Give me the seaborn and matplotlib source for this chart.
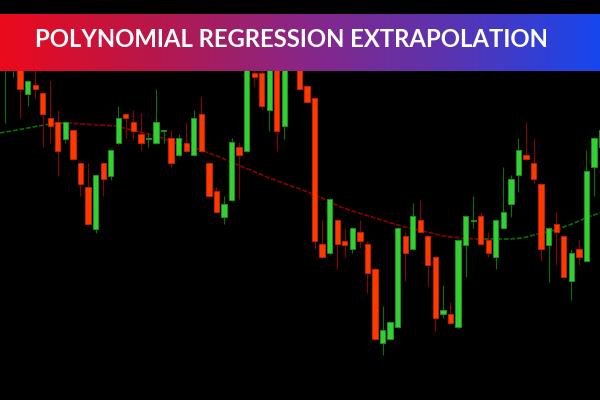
import numpy as np
import pandas as pd
import matplotlib.pyplot as plt
import seaborn as sns
from matplotlib.colors import LinearSegmentedColormap

# candle data (price units), one entry per bar
opens = [1.1340, 1.1332, 1.1340, 1.1306, 1.1315, 1.1307, 1.1282, 1.1278, 1.1261, 1.1270,
         1.1237, 1.1213, 1.1171, 1.1237, 1.1224, 1.1257, 1.1286, 1.1278, 1.1266, 1.1261,
         1.1257, 1.1269, 1.1262, 1.1245, 1.1257, 1.1245, 1.1286, 1.1237, 1.1209, 1.1183,
         1.1200, 1.1253, 1.1249, 1.1327, 1.1327, 1.1290, 1.1335, 1.1274, 1.1332, 1.1335,
         1.1314, 1.1302, 1.1156, 1.1147, 1.1180, 1.1159, 1.1151, 1.1168, 1.1156, 1.1131,
         1.1057, 1.1061, 1.1073, 1.1164, 1.1151, 1.1180, 1.1164, 1.1143, 1.1086, 1.1086,
         1.1073, 1.1155, 1.1179, 1.1184, 1.1160, 1.1143, 1.1172, 1.1196, 1.1225, 1.1245,
         1.1237, 1.1216, 1.1155, 1.1176, 1.1164, 1.1119, 1.1151, 1.1139, 1.1233, 1.1253]
highs = [1.1360, 1.1355, 1.1345, 1.1320, 1.1335, 1.1308, 1.1319, 1.1290, 1.1279, 1.1271,
         1.1238, 1.1237, 1.1226, 1.1238, 1.1251, 1.1294, 1.1287, 1.1290, 1.1287, 1.1267,
         1.1311, 1.1270, 1.1270, 1.1266, 1.1278, 1.1290, 1.1303, 1.1238, 1.1213, 1.1204,
         1.1262, 1.1258, 1.1345, 1.1332, 1.1330, 1.1345, 1.1340, 1.1345, 1.1355, 1.1340,
         1.1315, 1.1303, 1.1180, 1.1202, 1.1181, 1.1172, 1.1173, 1.1180, 1.1159, 1.1132,
         1.1094, 1.1079, 1.1173, 1.1168, 1.1197, 1.1200, 1.1165, 1.1144, 1.1115, 1.1098,
         1.1161, 1.1185, 1.1204, 1.1188, 1.1168, 1.1181, 1.1233, 1.1225, 1.1262, 1.1278,
         1.1262, 1.1217, 1.1173, 1.1188, 1.1165, 1.1151, 1.1160, 1.1250, 1.1263, 1.1275]
lows = [1.1277, 1.1323, 1.1282, 1.1294, 1.1302, 1.1253, 1.1257, 1.1224, 1.1257, 1.1240,
        1.1204, 1.1175, 1.1167, 1.1204, 1.1220, 1.1256, 1.1262, 1.1261, 1.1250, 1.1253,
        1.1256, 1.1257, 1.1233, 1.1244, 1.1248, 1.1244, 1.1248, 1.1203, 1.1187, 1.1176,
        1.1199, 1.1201, 1.1248, 1.1314, 1.1290, 1.1269, 1.1249, 1.1261, 1.1329, 1.1310,
        1.1297, 1.1151, 1.1142, 1.1146, 1.1131, 1.1143, 1.1147, 1.1152, 1.1107, 1.1060,
        1.1045, 1.1060, 1.1072, 1.1119, 1.1150, 1.1167, 1.1114, 1.1069, 1.1082, 1.1076,
        1.1072, 1.1123, 1.1172, 1.1155, 1.1143, 1.1131, 1.1171, 1.1183, 1.1208, 1.1240,
        1.1217, 1.1139, 1.1118, 1.1135, 1.1122, 1.1100, 1.1135, 1.1138, 1.1204, 1.1252]
closes = [1.1355, 1.1350, 1.1311, 1.1319, 1.1311, 1.1286, 1.1274, 1.1249, 1.1278, 1.1241,
          1.1216, 1.1176, 1.1225, 1.1221, 1.1250, 1.1282, 1.1282, 1.1269, 1.1257, 1.1262,
          1.1278, 1.1270, 1.1237, 1.1262, 1.1249, 1.1282, 1.1249, 1.1204, 1.1188, 1.1196,
          1.1258, 1.1245, 1.1340, 1.1323, 1.1294, 1.1340, 1.1269, 1.1340, 1.1350, 1.1311,
          1.1298, 1.1159, 1.1143, 1.1201, 1.1156, 1.1155, 1.1172, 1.1159, 1.1127, 1.1061,
          1.1070, 1.1078, 1.1172, 1.1147, 1.1184, 1.1168, 1.1135, 1.1082, 1.1090, 1.1077,
          1.1160, 1.1184, 1.1180, 1.1156, 1.1147, 1.1180, 1.1188, 1.1221, 1.1250, 1.1241,
          1.1221, 1.1151, 1.1172, 1.1168, 1.1123, 1.1147, 1.1143, 1.1229, 1.1262, 1.1270]

# regression curve (bar index, price)
reg_idx = [-0.7, 1.6, 3.7, 6.0, 8.2, 10.3, 12.6, 14.6, 16.3, 18.5, 20.8, 22.9, 25.2,
           28.1, 30.2, 32.5, 34.7, 36.8, 39.1, 42.0, 44.1, 46.4, 48.6, 50.7, 53.0,
           55.9, 58.0, 60.3, 62.5, 64.6, 66.9, 68.5, 70.6, 72.9, 75.1, 77.2, 78.8]
reg_val = [1.1267, 1.1270, 1.1273, 1.1276, 1.1277, 1.1276, 1.1275, 1.1274, 1.1271,
           1.1267, 1.1262, 1.1256, 1.1252, 1.1244, 1.1237, 1.1230, 1.1223, 1.1217,
           1.1211, 1.1202, 1.1194, 1.1188, 1.1183, 1.1178, 1.1173, 1.1168, 1.1164,
           1.1162, 1.1161, 1.1161, 1.1161, 1.1162, 1.1166, 1.1170, 1.1176, 1.1183, 1.1187]

title = "POLYNOMIAL REGRESSION EXTRAPOLATION"

sns.set_theme(style="dark")
plt.rcParams['font.family'] = ['Lato', 'DejaVu Sans']

df = pd.DataFrame({'open': opens, 'high': highs, 'low': lows, 'close': closes})
df['x'] = np.arange(len(df))
df['bull'] = df['close'] >= df['open']

fig = plt.figure(figsize=(6, 4), dpi=100, facecolor='black')
ax = fig.add_axes([0, 0, 1, 1])
ax.set_facecolor('black')

# regression line, green where rising and dark red where falling
up = np.diff(reg_val) >= 0
rows = []
run = 0
for k in range(len(up)):
    if k > 0 and up[k] != up[k - 1]:
        run += 1
    rows.append((run, reg_idx[k], reg_val[k], up[k]))
    rows.append((run, reg_idx[k + 1], reg_val[k + 1], up[k]))
reg = pd.DataFrame(rows, columns=['run', 'idx', 'val', 'up'])
pal = {r: ('#0b6b0b' if g['up'].iloc[0] else '#8a0000') for r, g in reg.groupby('run')}
sns.lineplot(data=reg, x='idx', y='val', hue='run', palette=pal, estimator=None,
             sort=False, legend=False, linewidth=1.2, linestyle=(0, (3, 1)), ax=ax)

# wicks
wick_col = np.where(df['bull'], '#0a6e0a', '#8b0000')
ax.vlines(df['x'], df['low'], df['high'], colors=wick_col, linewidth=0.8, zorder=3)

# bodies
body = (df['close'] - df['open']).abs().clip(lower=0.00003)
bottom = df[['open', 'close']].min(axis=1)
fill = np.where(df['bull'], '#33d033', '#ff3a00')
edge = np.where(df['bull'], '#1f8f1f', '#c42000')
ax.bar(df['x'], body, bottom=bottom, width=0.7, color=fill, edgecolor=edge,
       linewidth=0.7, zorder=4)

ax.set_xlim(-0.66, 78.8)
ax.set_ylim(1.1000, 1.1400)
ax.set_axis_off()

# title banner with red -> blue gradient
cmap = LinearSegmentedColormap.from_list('banner', ['#ec0a1c', '#b8174a', '#8a2686', '#5a34b0', '#1746ee'])
bax = fig.add_axes([0, 1 - 71 / 400, 1, 57 / 400])
bax.imshow(np.linspace(0, 1, 256).reshape(1, -1), aspect='auto', cmap=cmap,
           extent=[0, 1, 0, 1])
bax.set_axis_off()
bax.text(0.486, 0.55, title, color='white', fontsize=17.2, fontweight='bold',
         ha='center', va='center', transform=bax.transAxes)

fig.savefig('out.png', dpi=100, facecolor='black')
